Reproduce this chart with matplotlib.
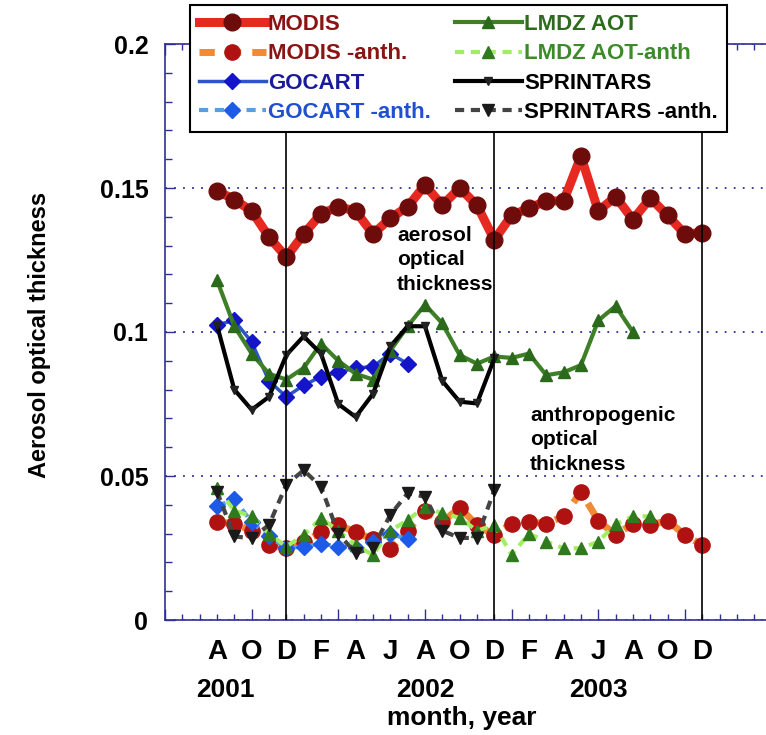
import matplotlib
matplotlib.use('Agg')
import matplotlib.pyplot as plt
from matplotlib.ticker import MultipleLocator, FuncFormatter

plt.rcParams['font.family'] = ['Liberation Sans', 'DejaVu Sans']
plt.rcParams['font.weight'] = 'bold'

# month index: 1 = Jan 2001, 12 = Dec 2001, 24 = Dec 2002 ...
modis_months = list(range(8, 37))
modis = [0.149, 0.146, 0.142, 0.133, 0.126, 0.134, 0.141, 0.1435, 0.142, 0.134,
         0.1395, 0.1435, 0.151, 0.144, 0.150, 0.144, 0.132, 0.1405, 0.143, 0.1455,
         0.1455, 0.161, 0.142, 0.147, 0.139, 0.1465, 0.1405, 0.134, 0.1345]
modis_anth = [0.034, 0.0335, 0.031, 0.026, 0.025, 0.027, 0.0305, 0.033, 0.0305, 0.028,
              0.0245, 0.031, 0.038, 0.034, 0.039, 0.033, 0.0295, 0.0335, 0.034, 0.0335,
              0.036, 0.0445, 0.0345, 0.0295, 0.0335, 0.033, 0.0345, 0.0295, 0.026]

gocart_months = list(range(8, 20))
gocart = [0.1025, 0.104, 0.0965, 0.083, 0.0775, 0.0815, 0.0845, 0.086, 0.0875, 0.088,
          0.0925, 0.089]
gocart_anth = [0.0395, 0.042, 0.034, 0.029, 0.025, 0.0255, 0.0265, 0.0255, 0.025, 0.027,
               0.030, 0.028]

lmdz_months = list(range(8, 33))
lmdz = [0.118, 0.102, 0.0925, 0.0855, 0.0835, 0.0875, 0.096, 0.090, 0.0855, 0.0835,
        0.0935, 0.102, 0.1095, 0.103, 0.092, 0.089, 0.0915, 0.091, 0.0925, 0.085,
        0.086, 0.0885, 0.104, 0.109, 0.100]
lmdz_anth_months = list(range(8, 34))
lmdz_anth = [0.0457, 0.038, 0.036, 0.030, 0.0255, 0.0295, 0.0353, 0.031, 0.026, 0.0226,
             0.031, 0.0347, 0.0393, 0.037, 0.0355, 0.031, 0.033, 0.0226, 0.030, 0.0272,
             0.0249, 0.0249, 0.0272, 0.0333, 0.036, 0.036]

sprintars_months = list(range(8, 25))
sprintars = [0.1024, 0.080, 0.073, 0.0775, 0.092, 0.0985, 0.0925, 0.075, 0.0705, 0.0785,
             0.095, 0.102, 0.102, 0.083, 0.0758, 0.0752, 0.0908]
sprintars_anth = [0.0446, 0.029, 0.0284, 0.033, 0.047, 0.052, 0.0463, 0.030, 0.0232, 0.025,
                  0.0365, 0.044, 0.0428, 0.031, 0.0285, 0.0285, 0.0451]

month_ticks = [8, 10, 12, 14, 16, 18, 20, 22, 24, 26, 28, 30, 32, 34, 36]
month_letters = ['A', 'O', 'D', 'F', 'A', 'J', 'A', 'O', 'D', 'F', 'A', 'J', 'A', 'O', 'D']
years = ['2001', '2002', '2003']
year_pos = [8.5, 20, 30]
year_ends = [12, 24, 36]

navy = '#2f2f96'
W, H = 766, 735

fig = plt.figure(figsize=(W / 100, H / 100), dpi=100)
ax = fig.add_axes([165 / W, 115 / H, 606.6 / W, 576 / H])

dash = (2.2, 1.6)
ax.plot(modis_months, modis, color='#e62a22', lw=6.5, marker='o', ms=12,
        mfc='#6e0c0c', mec='#6e0c0c', label='MODIS', zorder=3)
ax.plot(modis_months, modis_anth, color='#f08a35', lw=5, dashes=dash, marker='o', ms=11,
        mfc='#b01212', mec='#b01212', label='MODIS -anth.', zorder=3)
ax.plot(gocart_months, gocart, color='#2b55c8', lw=2.5, marker='D', ms=8,
        mfc='#1414c8', mec='#1414c8', label='GOCART', zorder=4)
ax.plot(gocart_months, gocart_anth, color='#5a9ee0', lw=3, dashes=dash, marker='D', ms=8,
        mfc='#1e5ae8', mec='#1e5ae8', label='GOCART -anth.', zorder=4)
ax.plot(lmdz_months, lmdz, color='#3f7f28', lw=3, marker='^', ms=9,
        mfc='#2a6a1a', mec='#2a6a1a', label='LMDZ AOT', zorder=5)
ax.plot(lmdz_anth_months, lmdz_anth, color='#a2ee62', lw=3, dashes=dash, marker='^', ms=9,
        mfc='#2f7a1f', mec='#2f7a1f', label='LMDZ AOT-anth', zorder=5)
ax.plot(sprintars_months, sprintars, color='black', lw=3, marker='v', ms=6,
        mfc='#222222', mec='#222222', label='SPRINTARS', zorder=6)
ax.plot(sprintars_months, sprintars_anth, color='#444444', lw=3, dashes=dash, marker='v', ms=9,
        mfc='#1a1a1a', mec='#1a1a1a', label='SPRINTARS -anth.', zorder=6)

for m in year_ends:
    ax.axvline(m, color='black', lw=1.2, zorder=8)

ax.set_xlim(5, 40)
ax.set_ylim(0, 0.2)

ax.yaxis.set_major_locator(MultipleLocator(0.05))
ax.yaxis.set_minor_locator(MultipleLocator(0.01))
ax.yaxis.set_major_formatter(FuncFormatter(lambda v, p: '%g' % round(v, 3)))
ax.xaxis.set_major_locator(MultipleLocator(5))
ax.xaxis.set_minor_locator(MultipleLocator(1))
ax.tick_params(axis='x', which='both', direction='in', labelbottom=False, top=True,
               color=navy, width=1)
ax.tick_params(axis='x', which='major', length=8)
ax.tick_params(axis='x', which='minor', length=4)
ax.tick_params(axis='y', which='both', direction='in', color=navy, width=1, pad=12,
               labelsize=18)
ax.tick_params(axis='y', which='major', length=7)
ax.tick_params(axis='y', which='minor', length=5)

ax.yaxis.grid(True, which='major', linestyle=(0, (1, 4)), color=navy, lw=1.3)
ax.set_axisbelow(True)
for side in ['left', 'bottom', 'top']:
    ax.spines[side].set_color(navy)
    ax.spines[side].set_linewidth(1.2)
ax.spines['right'].set_visible(False)

tr = ax.get_xaxis_transform()
for m, s in zip(month_ticks, month_letters):
    ax.text(m, -0.056, s, transform=tr, ha='center', va='center', fontsize=20,
            fontweight='bold')
for x, s in zip(year_pos, years):
    ax.text(x, -0.122, s, transform=tr, ha='center', va='center', fontsize=19,
            fontweight='bold')
fig.text(462 / W, 1 - 718 / H, 'month, year', ha='center', va='center', fontsize=19,
         fontweight='bold')
fig.text(40 / W, 1 - 335 / H, 'Aerosol optical thickness', rotation=90, ha='center',
         va='center', fontsize=17, fontweight='bold')

fig.text(397 / W, 1 - 226 / H, 'aerosol\noptical\nthickness', ha='left', va='top',
         fontsize=15, fontweight='bold', linespacing=1.35)
fig.text(530 / W, 1 - 406 / H, 'anthropogenic\noptical\nthickness', ha='left', va='top',
         fontsize=15, fontweight='bold', linespacing=1.35)

leg = ax.legend(loc='upper left', bbox_to_anchor=(190 / W, 1 - 5 / H),
                bbox_transform=fig.transFigure, ncol=2, fontsize=16, frameon=True,
                fancybox=False, framealpha=1, edgecolor='black', handlelength=3.0,
                handletextpad=0.1, columnspacing=1.1, labelspacing=0.38,
                borderpad=0.4, borderaxespad=0, numpoints=1)
leg.get_frame().set_linewidth(1.5)
leg.set_zorder(20)
text_colors = ['#8a1414', '#8a1414', '#1a1a9a', '#2050d0',
               '#2e6b1e', '#3d8a2a', 'black', 'black']
for t, c in zip(leg.get_texts(), text_colors):
    t.set_color(c)
    t.set_fontweight('bold')

fig.savefig('out.png', dpi=100)
